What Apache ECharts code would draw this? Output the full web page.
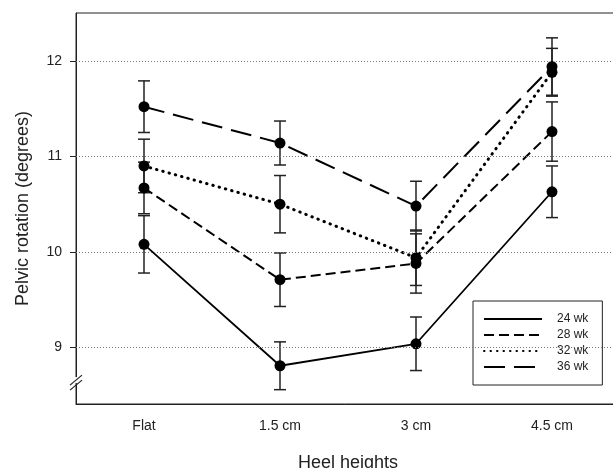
<!DOCTYPE html>
<html>
<head>
<meta charset="utf-8">
<script src="https://cdn.jsdelivr.net/npm/echarts@6/dist/echarts.min.js"></script>
<style>
  html, body { margin: 0; padding: 0; background: #fff; }
  #chart { width: 613px; height: 468px; }
</style>
</head>
<body>
<div id="chart"></div>
<script>
// heel height categories
var heels = ["Flat", "1.5 cm", "3 cm", "4.5 cm"];
var weeks = ["24 wk", "28 wk", "32 wk", "36 wk"];

// mean pelvic rotation (degrees)
var wk24 = [10.08, 8.81, 9.04, 10.63];
var wk28 = [10.67, 9.71, 9.88, 11.26];
var wk32 = [10.90, 10.50, 9.94, 11.88];
var wk36 = [11.52, 11.14, 10.48, 11.94];

// error bar half lengths
var err24 = [0.30, 0.25, 0.28, 0.27];
var err28 = [0.27, 0.28, 0.31, 0.31];
var err32 = [0.28, 0.30, 0.29, 0.25];
var err36 = [0.27, 0.23, 0.26, 0.30];

var yTicks = [9, 10, 11, 12];
var breakAt = 8.66;

var means = [wk24, wk28, wk32, wk36];
var errs = [err24, err28, err32, err36];
var dashes = [
	{ type: "solid", width: 1.8 },
	{ type: [10, 5], width: 2 },
	{ type: [0.5, 6], width: 3, cap: "round" },
	{ type: [21, 9], width: 2 }
];

var ink = "#222";
var font = "Liberation Sans, Arial, sans-serif";

// error bar items: [category index, low, high]
var errData = [];
for (var s = 0; s < means.length; s++) {
	for (var i = 0; i < heels.length; i++) {
		errData.push([i, means[s][i] - errs[s][i], means[s][i] + errs[s][i]]);
	}
}

var renderErr = function(params, api) {
	var lo = api.coord([api.value(0), api.value(1)]);
	var hi = api.coord([api.value(0), api.value(2)]);
	var w = 6;
	var st = { stroke: ink, lineWidth: 1.5 };
	return {
		type: "group",
		children: [
			{ type: "line", shape: { x1: lo[0], y1: lo[1], x2: hi[0], y2: hi[1] }, style: st },
			{ type: "line", shape: { x1: lo[0] - w, y1: lo[1], x2: lo[0] + w, y2: lo[1] }, style: st },
			{ type: "line", shape: { x1: hi[0] - w, y1: hi[1], x2: hi[0] + w, y2: hi[1] }, style: st }
		]
	};
};

var series = [{
	name: "err",
	type: "custom",
	renderItem: renderErr,
	data: errData,
	z: 2,
	silent: true,
	markLine: {
		silent: true,
		symbol: "none",
		label: { show: false },
		lineStyle: { color: "#777", type: [1, 2], width: 1 },
		data: yTicks.map(function(v) { return { yAxis: v }; })
	}
}];
for (var k = 0; k < weeks.length; k++) {
	series.push({
		name: weeks[k],
		type: "line",
		data: means[k],
		symbol: "circle",
		symbolSize: 11,
		z: 3,
		itemStyle: { color: "#000" },
		lineStyle: { color: "#000", type: dashes[k].type, width: dashes[k].width, cap: dashes[k].cap || "butt" }
	});
}

var myChart = echarts.init(document.getElementById("chart"));
var option = {
	animation: false,
	textStyle: { fontFamily: font },
	grid: { left: 76, top: 13, width: 544, height: 391, show: true, borderColor: ink, borderWidth: 1, outerBoundsMode: "none", containLabel: false },
	legend: {
		data: weeks,
		orient: "vertical",
		left: 473,
		top: 301,
		padding: [12, 14, 12, 10],
		itemWidth: 58,
		itemHeight: 12,
		itemGap: 4,
		borderColor: ink,
		borderWidth: 1,
		backgroundColor: "#fff",
		itemStyle: { opacity: 0 },
		textStyle: { fontSize: 12, color: ink, padding: [0, 0, 0, 10] },
		selectedMode: false
	},
	xAxis: {
		type: "category",
		data: heels,
		name: "Heel heights",
		nameLocation: "middle",
		nameGap: 50,
		nameTextStyle: { fontSize: 18, color: ink },
		axisLine: { lineStyle: { color: ink, width: 1 } },
		axisTick: { alignWithLabel: true, length: 5, lineStyle: { color: ink } },
		axisLabel: { fontSize: 14, color: ink, margin: 15 },
		splitLine: { show: false }
	},
	yAxis: {
		type: "value",
		min: 8.41,
		max: 12.5,
		name: "Pelvic rotation (degrees)",
		nameLocation: "middle",
		nameGap: 44,
		nameTextStyle: { fontSize: 18, color: ink },
		axisLine: { show: true, lineStyle: { color: ink, width: 1 } },
		axisTick: { show: true, length: 6, customValues: yTicks, lineStyle: { color: ink } },
		axisLabel: { fontSize: 14, color: ink, margin: 14, customValues: yTicks },
		splitLine: { show: false }
	},
	series: series
};
myChart.setOption(option);

// axis break mark on the y axis
var bx = myChart.convertToPixel({ xAxisIndex: 0 }, 0) - 68;
var by = myChart.convertToPixel({ yAxisIndex: 0 }, breakAt);
myChart.setOption({
	graphic: [
		{ type: "rect", shape: { x: bx - 2, y: by - 3, width: 4, height: 6 }, style: { fill: "#fff" }, z: 10 },
		{ type: "line", shape: { x1: bx - 6, y1: by + 5, x2: bx + 6, y2: by - 5 }, style: { stroke: ink, lineWidth: 1.2 }, z: 11 },
		{ type: "line", shape: { x1: bx - 6, y1: by + 10, x2: bx + 6, y2: by }, style: { stroke: ink, lineWidth: 1.2 }, z: 11 }
	]
});
</script>
</body>
</html>
